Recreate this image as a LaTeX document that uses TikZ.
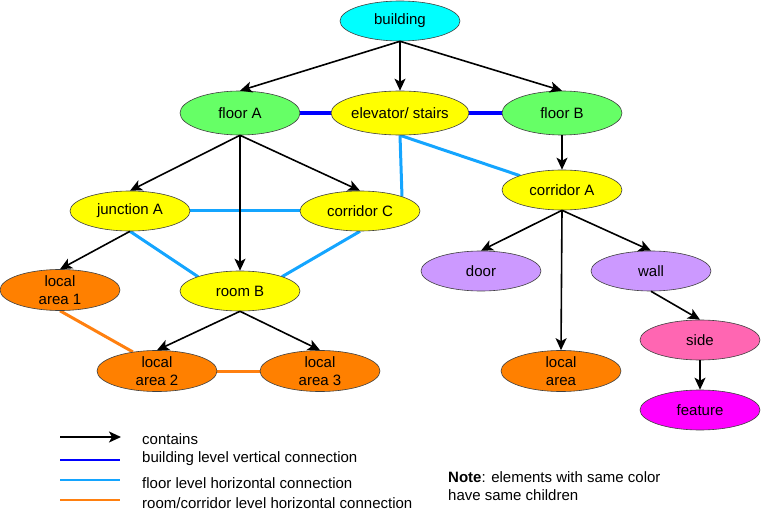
\documentclass[tikz,border=0pt]{standalone}
\usepackage{fontspec}
\setmainfont{Liberation Sans}
\usetikzlibrary{shapes.geometric,arrows.meta,calc,backgrounds}
\definecolor{cyanfill}{RGB}{0,255,255}
\definecolor{greenfill}{RGB}{102,255,102}
\definecolor{yellowfill}{RGB}{255,255,0}
\definecolor{orangefill}{RGB}{255,128,0}
\definecolor{lilacfill}{RGB}{204,153,255}
\definecolor{pinkfill}{RGB}{255,102,178}
\definecolor{magentafill}{RGB}{255,0,255}
\definecolor{vblue}{RGB}{0,0,255}
\definecolor{hblue}{RGB}{20,165,255}
\definecolor{horange}{RGB}{255,128,16}
\tikzset{
  el/.style={ellipse, draw=black!75, line width=0.6pt, minimum width=120pt, minimum height=40pt,
    inner sep=0pt, font=\fontsize{15}{18}\selectfont, align=center},
  tall/.style={minimum height=44pt},
  contains/.style={draw=black, line width=1.6pt, -{Stealth[length=12pt,width=11pt,inset=3pt]}},
  vconn/.style={draw=vblue, line width=3.2pt},
  hconn/.style={draw=hblue, line width=3pt},
  rconn/.style={draw=horange, line width=3pt},
  legtext/.style={anchor=west, font=\fontsize{15}{18}\selectfont, inner sep=0pt},
}
\begin{document}
\begin{tikzpicture}[x=1pt,y=-1pt]
\useasboundingbox (0,0) rectangle (761,532);
% nodes
\node[el, fill=cyanfill] (bld) at (400,21) {building};
\node[el, tall, fill=greenfill] (flA) at (240,113) {floor A};
\node[el, tall, fill=yellowfill] (elev) at (400,113) {elevator/ stairs};
\node[el, tall, fill=greenfill] (flB) at (562,113) {floor B};
\node[el, fill=yellowfill] (junA) at (130,211) {junction A};
\node[el, fill=yellowfill] (corC) at (360,211) {corridor C};
\node[el, fill=yellowfill] (corA) at (562,190) {corridor A};
\node[el, fill=orangefill] (la1) at (60,290) {local\\area 1};
\node[el, fill=yellowfill] (roomB) at (240,291) {room B};
\node[el, fill=orangefill] (la2) at (157,371) {local\\area 2};
\node[el, fill=orangefill] (la3) at (320,371) {local\\area 3};
\node[el, fill=lilacfill] (door) at (481,271) {door};
\node[el, fill=lilacfill] (wall) at (651,271) {wall};
\node[el, fill=orangefill] (la) at (561,371) {local\\area};
\node[el, fill=pinkfill] (side) at (700,340) {side};
\node[el, fill=magentafill] (feat) at (700,410) {feature};
% connectors
\begin{scope}[on background layer]
\draw[vconn] (flA.center) -- (elev.center);
\draw[vconn] (elev.center) -- (flB.center);
\draw[hconn] (junA.center) -- (corC.center);
\draw[hconn] (junA.south) -- ($(roomB.center)+(-42,-14.3)$);
\draw[hconn] (corC.south) -- ($(roomB.center)+(42,-14.3)$);
\draw[hconn] (elev.south) -- ($(corC.center)+(42,-14.3)$);
\draw[hconn] (elev.south) -- ($(corA.center)+(-42,-14.3)$);
\draw[rconn] (la1.south) -- ($(la2.center)+(-24,-19)$);
\draw[rconn] (la2.center) -- (la3.center);
\end{scope}
\draw[contains] (bld.south) -- (flA.north);
\draw[contains] (bld.south) -- (elev.north);
\draw[contains] (bld.south) -- (flB.north);
\draw[contains] (flA.south) -- (junA.north);
\draw[contains] (flA.south) -- (roomB.north);
\draw[contains] (flA.south) -- (corC.north);
\draw[contains] (flB.south) -- (corA.north);
\draw[contains] (corA.south) -- (door.north);
\draw[contains] (corA.south) -- (la.north);
\draw[contains] (corA.south) -- (wall.north);
\draw[contains] (junA.south) -- (la1.north);
\draw[contains] (roomB.south) -- (la2.north);
\draw[contains] (roomB.south) -- (la3.north);
\draw[contains] (wall.south) -- (side.north);
\draw[contains] (side.south) -- (feat.north);
% legend
\coordinate (l1a) at (60,437); \coordinate (l1b) at (121,437);
\coordinate (l2a) at (60,460); \coordinate (l2b) at (120,460);
\coordinate (l3a) at (60,480); \coordinate (l3b) at (120,480);
\coordinate (l4a) at (60,500); \coordinate (l4b) at (120,500);
\draw[contains] (l1a) -- (l1b);
\draw[vconn, line width=2.6pt] (l2a) -- (l2b);
\draw[hconn, line width=2.6pt] (l3a) -- (l3b);
\draw[rconn, line width=2.6pt] (l4a) -- (l4b);
\node[legtext] (t1) at (142,439) {contains};
\node[legtext] (t2) at (142,459) {building level vertical connection};
\node[legtext] (t3) at (142,483) {floor level horizontal connection};
\node[legtext] (t4) at (142,503) {room/corridor level horizontal connection};
\node[legtext, align=left, anchor=north west] (note) at (448,471) {\textbf{Note}: elements with same color\\have same children};
\end{tikzpicture}
\end{document}
